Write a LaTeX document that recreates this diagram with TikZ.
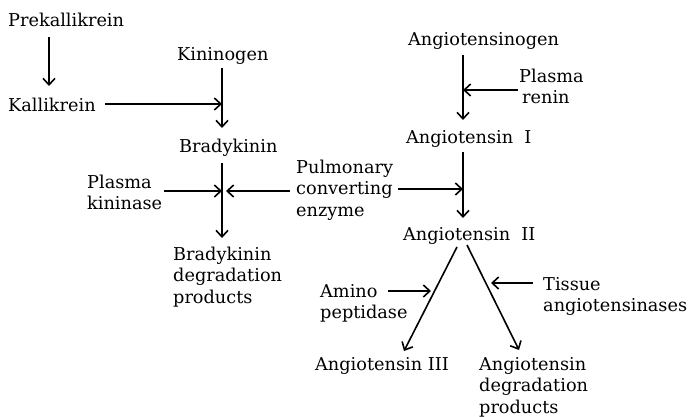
\documentclass[tikz,border=0pt]{standalone}
\usepackage{fontspec}
\setmainfont{DejaVu Serif}
\usetikzlibrary{arrows.meta}
\begin{document}
\begin{tikzpicture}[x=1pt,y=-1pt,
  lbl/.style={inner sep=0pt,anchor=base west,align=left,font=\fontsize{17.7}{21.5}\selectfont},
  arr/.style={line width=1.6pt,-{Straight Barb[length=6.5pt,width=12pt,line width=1.6pt]}}]
\useasboundingbox (0,0) rectangle (689,416);
% left column (base anchor = baseline of the last line)
\node[lbl] (prek) at (8,26) {Prekallikrein};
\node[lbl] (kall) at (8,111) {Kallikrein};
\node[lbl] (kin) at (177,60) {Kininogen};
\node[lbl] (brady) at (179,152) {Bradykinin};
\node[lbl] (pkin) at (87,209.5) {Plasma\\kininase};
\node[lbl] (pce) at (296,216) {Pulmonary\\converting\\enzyme};
\node[lbl] (bdp) at (173,303) {Bradykinin\\degradation\\products};
% right column
\node[lbl] (agen) at (408,45) {Angiotensinogen};
\node[lbl] (prenin) at (519,103.5) {Plasma\\\hspace*{3pt}renin};
\node[lbl] (a1) at (406,143) {Angiotensin~~I};
\node[lbl] (a2) at (403,240) {Angiotensin~~II};
\node[lbl] (amino) at (320,318.5) {Amino\\peptidase};
\node[lbl] (tissue) at (543,311.5) {Tissue\\angiotensinases};
\node[lbl] (a3) at (315,370) {Angiotensin~III};
\node[lbl] (adp) at (479,413) {Angiotensin\\degradation\\products};
% coordinates on the reaction lines
\coordinate (c1) at (222,104);
\coordinate (c2) at (222,191);
\coordinate (c3) at (463,90);
\coordinate (c4) at (463,189);
\coordinate (c5) at (431,291);
\coordinate (c6) at (491,283);
% main reaction arrows
\draw[arr] (49,37) -- (49,86);
\draw[arr] (222,68) -- (222,128);
\draw[arr] (222,163) -- (222,238);
\draw[arr] (463,55) -- (463,120);
\draw[arr] (463,152) -- (463,218);
\draw[arr] (457,247) -- (404,351);
\draw[arr] (467,245) -- (519,350);
% enzyme arrows
\draw[arr] (105,104) -- (c1);
\draw[arr] (164,191) -- (c2);
\draw[arr] (290,191) -- ([xshift=4pt]c2);
\draw[arr] (398,189) -- (c4);
\draw[arr] (518,90) -- (c3);
\draw[arr] (388,291) -- (c5);
\draw[arr] (533,283) -- (c6);
\end{tikzpicture}
\end{document}
